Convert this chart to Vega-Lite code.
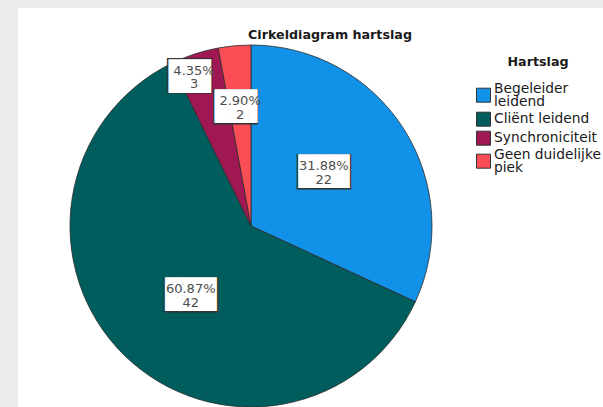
{
  "$schema": "https://vega.github.io/schema/vega-lite/v6.json",
  "background": "#ececec",
  "padding": {"left": 18, "top": 8, "right": 0, "bottom": 0},
  "spacing": 0,
  "bounds": "flush",
  "config": {
    "view": {"fill": "#ffffff", "stroke": null},
    "font": "DejaVu Sans"
  },
  "hconcat": [
    {
      "width": 466,
      "height": 436,
      "view": {"fill": "#ffffff", "stroke": null},
      "title": {
        "text": "Cirkeldiagram hartslag",
        "font": "DejaVu Sans",
        "fontSize": 12.7,
        "fontWeight": "bold",
        "color": "#1a1a1a",
        "anchor": "middle",
        "frame": "group",
        "dx": 79,
        "offset": -44,
        "baseline": "alphabetic"
      },
      "data": {
        "values": [
          {"code": 1, "Hartslag": "Begeleider leidend", "aantal": 22, "aandeel": 0.3188},
          {"code": 2, "Hartslag": "Cliënt leidend", "aantal": 42, "aandeel": 0.6087},
          {"code": 3, "Hartslag": "Synchroniciteit", "aantal": 3, "aandeel": 0.0435},
          {"code": 4, "Hartslag": "Geen duidelijke piek", "aantal": 2, "aandeel": 0.029}
        ]
      },
      "encoding": {
        "theta": {"field": "aantal", "type": "quantitative", "stack": true},
        "order": {"field": "code", "type": "quantitative", "sort": "ascending"},
        "detail": {"field": "Hartslag", "type": "nominal"}
      },
      "layer": [
        {
          "mark": {"type": "arc", "radius": 181, "stroke": "#2b2b2b", "strokeWidth": 0.8},
          "encoding": {
            "color": {
              "field": "Hartslag",
              "type": "nominal",
              "sort": ["Begeleider leidend", "Cliënt leidend", "Synchroniciteit", "Geen duidelijke piek"],
              "scale": {
                "domain": ["Begeleider leidend", "Cliënt leidend", "Synchroniciteit", "Geen duidelijke piek"],
                "range": ["#1192e8", "#005d5d", "#9f1853", "#fa4d56"]
              },
              "legend": {
                "orient": "none",
                "legendX": 458,
                "legendY": 48,
                "title": "Hartslag",
                "titleFont": "DejaVu Sans",
                "titleFontSize": 12.7,
                "titleFontWeight": "bold",
                "titleColor": "#1a1a1a",
                "titleAnchor": "middle",
                "titlePadding": 19,
                "labelFont": "DejaVu Sans",
                "labelFontSize": 13.8,
                "labelColor": "#1a1a1a",
                "labelOffset": 3,
                "labelLimit": 300,
                "labelExpr": "datum.label == 'Begeleider leidend' ? ['Begeleider', 'leidend'] : datum.label == 'Geen duidelijke piek' ? ['Geen duidelijke', 'piek'] : datum.label",
                "symbolType": "square",
                "symbolSize": 196,
                "symbolStrokeColor": "#333333",
                "symbolStrokeWidth": 1,
                "rowPadding": 0,
                "padding": 0,
                "encode": {
                  "labels": {
                    "update": {
                      "lineHeight": {"value": 13.5},
                      "dy": {"signal": "datum.label == 'Begeleider leidend' || datum.label == 'Geen duidelijke piek' ? -6.5 : 0"}
                    }
                  }
                }
              }
            }
          }
        },
        {
          "mark": {
            "type": "text",
            "font": "DejaVu Sans Mono",
            "fontSize": 30,
            "color": "#333333",
            "baseline": "alphabetic",
            "dy": 10.4,
            "radius": {"expr": "datum.code == 3 ? 160.6 : datum.code == 4 ? 120 : 91"},
            "thetaOffset": {"expr": "datum.code == 1 ? -0.075 : datum.code == 2 ? -0.05 : datum.code == 3 ? -0.044 : 0"}
          },
          "encoding": {
            "text": {"condition": {"test": "datum.aandeel > 0.1", "value": "███"}, "value": "██▌"}
          }
        },
        {
          "mark": {
            "type": "text",
            "font": "DejaVu Sans Mono",
            "fontSize": 28.4,
            "color": "#ffffff",
            "baseline": "alphabetic",
            "dy": 9.8,
            "radius": {"expr": "datum.code == 3 ? 160.6 : datum.code == 4 ? 120 : 91"},
            "thetaOffset": {"expr": "datum.code == 1 ? -0.075 : datum.code == 2 ? -0.05 : datum.code == 3 ? -0.044 : 0"}
          },
          "encoding": {
            "text": {"condition": {"test": "datum.aandeel > 0.1", "value": "███"}, "value": "██▌"}
          }
        },
        {
          "mark": {
            "type": "text",
            "fontSize": 13,
            "color": "#4d4d4d",
            "baseline": "alphabetic",
            "dy": -1,
            "radius": {"expr": "datum.code == 3 ? 160.6 : datum.code == 4 ? 120 : 91"},
            "thetaOffset": {"expr": "datum.code == 1 ? -0.075 : datum.code == 2 ? -0.05 : datum.code == 3 ? -0.044 : 0"}
          },
          "encoding": {
            "text": {"field": "aandeel", "type": "quantitative", "format": ".2%"}
          }
        },
        {
          "mark": {
            "type": "text",
            "fontSize": 13,
            "color": "#4d4d4d",
            "baseline": "alphabetic",
            "dy": 12.5,
            "radius": {"expr": "datum.code == 3 ? 160.6 : datum.code == 4 ? 120 : 91"},
            "thetaOffset": {"expr": "datum.code == 1 ? -0.075 : datum.code == 2 ? -0.05 : datum.code == 3 ? -0.044 : 0"}
          },
          "encoding": {
            "text": {"field": "aantal", "type": "quantitative"}
          }
        }
      ]
    },
    {
      "width": 140,
      "height": 436,
      "view": {"fill": "#ffffff", "stroke": null},
      "data": {"values": []},
      "mark": "point"
    }
  ]
}
